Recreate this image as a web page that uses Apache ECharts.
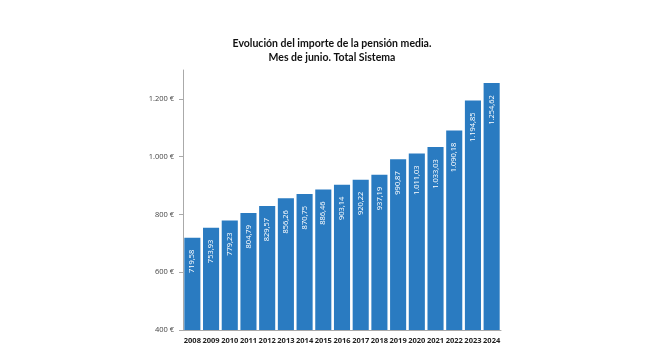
<!DOCTYPE html>
<html><head><meta charset="utf-8">
<script src="https://cdn.jsdelivr.net/npm/echarts@6/dist/echarts.min.js"></script>
<style>html,body{margin:0;padding:0;background:#fff}#c{width:650px;height:359px}</style>
</head><body><div id="c"></div>
<script>
const years = ['2008','2009','2010','2011','2012','2013','2014','2015','2016','2017','2018','2019','2020','2021','2022','2023','2024'];
const pension = [719.58,753.93,779.23,804.79,829.57,856.26,870.75,886.46,903.14,920.22,937.19,990.87,1011.03,1033.03,1090.18,1194.85,1254.62];
const titleText = 'Evolución del importe de la pensión media.\nMes de junio. Total Sistema';

function fmt(v, dec){
  const parts = v.toFixed(dec).split('.');
  parts[0] = parts[0].replace(/\B(?=(\d{3})+(?!\d))/g, '.');
  return dec ? parts[0] + ',' + parts[1] : parts[0];
}
const chart = echarts.init(document.getElementById('c'));
chart.setOption({
  animation:false,
  textStyle:{fontFamily:'Open Sans'},
  title:{text:titleText,left:327,textAlign:'center',top:32,
    textStyle:{fontSize:10.5,fontWeight:'bold',color:'#111',lineHeight:14,fontFamily:'Lato'}},
  grid:{left:183,right:149,top:70,bottom:29},
  xAxis:{type:'category',data:years,
    axisLine:{lineStyle:{color:'#aaa'}},axisTick:{show:false},
    axisLabel:{fontSize:7.5,fontWeight:'bold',color:'#222',margin:7,interval:0}},
  yAxis:{type:'value',min:400,max:1300,interval:200,
    axisLine:{show:true,lineStyle:{color:'#aaa'}},
    axisTick:{show:true,length:4,lineStyle:{color:'#aaa'}},
    splitLine:{show:false},
    axisLabel:{fontSize:7.5,color:'#444',margin:9,showMaxLabel:false,formatter:v=>fmt(v,0)+' €'}},
  series:[{type:'bar',data:pension,barCategoryGap:'14%',
    itemStyle:{color:'#2a7bc1'},
    label:{show:true,position:'insideTop',rotate:90,align:'right',verticalAlign:'middle',distance:12,
      color:'#fff',fontSize:7.5,formatter:p=>fmt(p.value,2)}}]
});
</script></body></html>
